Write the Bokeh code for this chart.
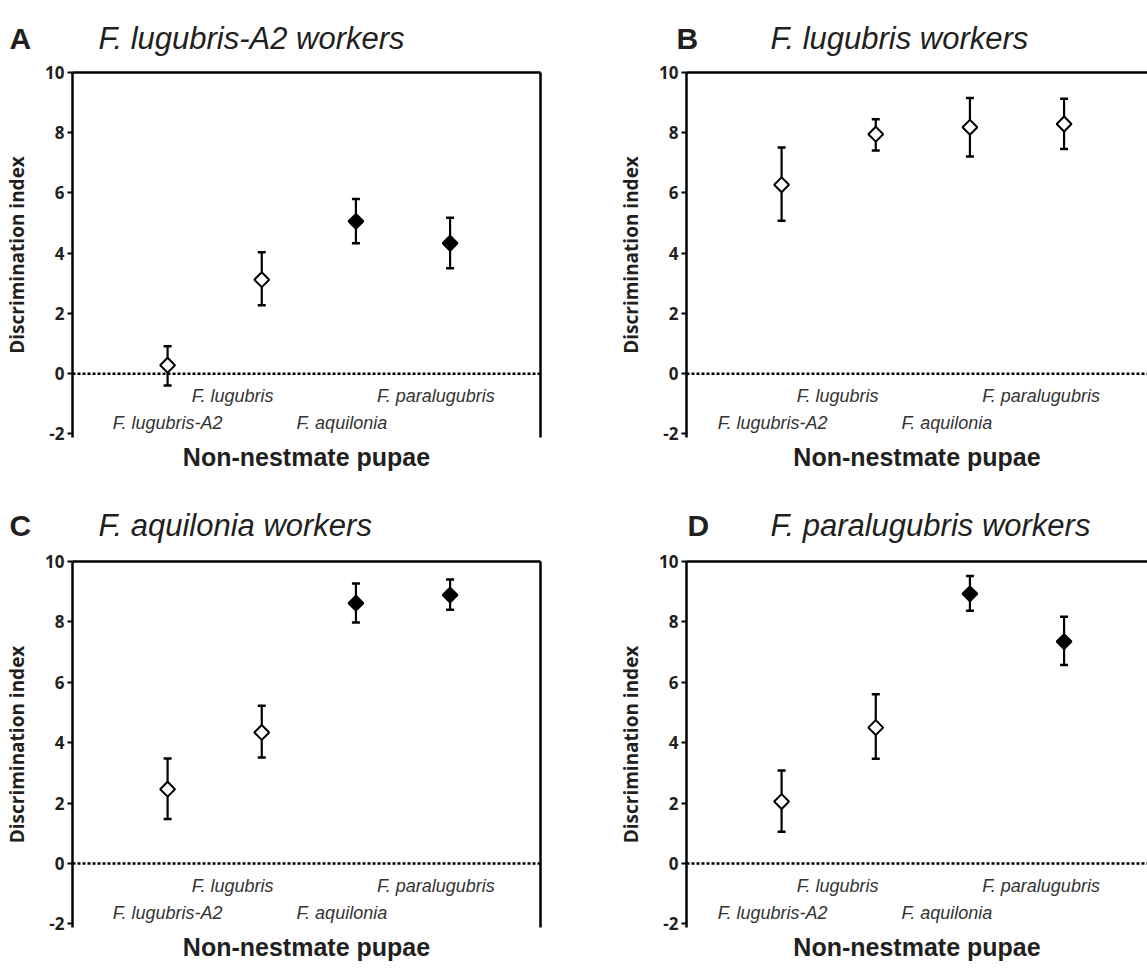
import math
from bokeh.plotting import figure
from bokeh.models import (Range1d, LinearAxis, FixedTicker, Span, Whisker, TeeHead,
                          ColumnDataSource)
from bokeh.layouts import column, row
from bokeh.core.properties import value
from bokeh.embed import file_html
from bokeh.resources import INLINE

# ---------------- data ----------------
categories = ["F. lugubris-A2", "F. lugubris", "F. aquilonia", "F. paralugubris"]
x_pos = [1, 2, 3, 4]
y_ticks = [-2, 0, 2, 4, 6, 8, 10]
y_tick_labels = ["-2", "0", "2", "4", "6", "8", "10"]

letters = ["A", "B", "C", "D"]
titles = ["F. lugubris-A2 workers", "F. lugubris workers",
          "F. aquilonia workers", "F. paralugubris workers"]

A_mean = [0.28, 3.12, 5.06, 4.33]
A_upper = [0.91, 4.03, 5.80, 5.18]
A_lower = [-0.39, 2.27, 4.33, 3.50]
A_filled = [False, False, True, True]

B_mean = [6.27, 7.95, 8.18, 8.29]
B_upper = [7.51, 8.45, 9.15, 9.13]
B_lower = [5.08, 7.41, 7.21, 7.46]
B_filled = [False, False, False, False]

C_mean = [2.46, 4.34, 8.62, 8.89]
C_upper = [3.48, 5.22, 9.27, 9.40]
C_lower = [1.47, 3.51, 7.98, 8.40]
C_filled = [False, False, True, True]

D_mean = [2.05, 4.50, 8.93, 7.35]
D_upper = [3.08, 5.60, 9.52, 8.17]
D_lower = [1.05, 3.47, 8.37, 6.57]
D_filled = [False, False, True, True]

x_title = "Non-nestmate pupae"
y_title = "Discrimination index"

# ---------------- style / layout ----------------
TXT = "#231f20"
SANS = "Liberation Sans"
TICKF = "Open Sans"
X_START = -0.01
PX_PER_UNIT = 94.16
label_shift = [0.0, -0.31, -0.15, -0.15]   # stagger alignment of category names
label_row_y = [-1.64, -0.75, -1.64, -0.75]

COL_W = [560, 587]
ROW_HEADER_H = [60, 52]
ROW_MAIN_H = [437, 423]


def blank_axis(**kw):
    ax = LinearAxis(ticker=FixedTicker(ticks=[]), **kw)
    ax.major_tick_out = 0
    ax.major_tick_in = 0
    ax.minor_tick_out = 0
    ax.minor_tick_in = 0
    ax.major_label_text_font_size = "0px"
    ax.major_label_standoff = 0
    return ax


def make_header(r):
    h = ROW_HEADER_H[r]
    total_w = sum(COL_W)
    p = figure(width=total_w, height=h, output_backend="svg", toolbar_location=None,
               x_range=Range1d(0, total_w), y_range=Range1d(h, 0),
               x_axis_location=None, y_axis_location=None,
               min_border=0, min_border_left=0, min_border_right=0,
               min_border_top=0, min_border_bottom=0)
    p.grid.visible = False
    p.outline_line_color = None
    base = 38 if r == 0 else 28
    i0, i1 = 2 * r, 2 * r + 1
    letter_x = [9, 676] if r == 0 else [9, 687]
    title_x = [98, 770]
    p.text(x=letter_x, y=[base, base], text=[letters[i0], letters[i1]],
           text_font=value(SANS), text_font_style="bold", text_font_size="30px",
           text_color=TXT, text_align="left", text_baseline="alphabetic")
    p.text(x=title_x, y=[base, base], text=[titles[i0], titles[i1]],
           text_font=value(SANS), text_font_style="italic", text_font_size="31px",
           text_color=TXT, text_align="left", text_baseline="alphabetic")
    return p


def make_panel(idx, mean, upper, lower, filled):
    c = idx % 2
    r = idx // 2
    width = COL_W[c]
    height = ROW_MAIN_H[r]
    mb_left = 72 if c == 0 else 126
    mb_right = 20 if c == 0 else 0
    mb_bottom = 60 if r == 0 else 45
    frame_w = width - mb_left - mb_right
    x_end = X_START + frame_w / PX_PER_UNIT

    p = figure(width=width, height=height, output_backend="svg", toolbar_location=None,
               x_range=Range1d(X_START, x_end), y_range=Range1d(-2.12, 10),
               x_axis_location=None, y_axis_location=None,
               min_border_left=mb_left, min_border_right=mb_right,
               min_border_top=12, min_border_bottom=mb_bottom)
    p.grid.visible = False
    p.outline_line_color = None

    # left axis with ticks and title
    ya = LinearAxis(ticker=FixedTicker(ticks=y_ticks), axis_label=y_title)
    ya.major_label_overrides = {t: s for t, s in zip(y_ticks, y_tick_labels)}
    ya.axis_line_width = 2.5
    ya.axis_line_color = "black"
    ya.major_tick_line_width = 2
    ya.major_tick_out = 5
    ya.major_tick_in = 0
    ya.minor_tick_out = 0
    ya.minor_tick_in = 0
    ya.major_label_standoff = 3
    ya.major_label_text_font = TICKF
    ya.major_label_text_font_style = "bold"
    ya.major_label_text_font_size = "17px"
    ya.major_label_text_color = TXT
    ya.axis_label_text_font = TICKF
    ya.axis_label_text_font_style = "bold"
    ya.axis_label_text_font_size = "19px"
    ya.axis_label_text_color = TXT
    ya.axis_label_standoff = 12
    p.add_layout(ya, "left")

    # top frame line
    ta = blank_axis()
    ta.axis_line_width = 2.5
    p.add_layout(ta, "above")

    if c == 0:
        ra = blank_axis()
        ra.axis_line_width = 2.5
        p.add_layout(ra, "right")

    # bottom: no line, only the title
    xa = blank_axis(axis_label=x_title)
    xa.axis_line_color = None
    xa.axis_label_text_font = SANS
    xa.axis_label_text_font_style = "bold"
    xa.axis_label_text_font_size = "25px"
    xa.axis_label_text_color = TXT
    xa.axis_label_standoff = 5
    p.add_layout(xa, "below")

    # dotted zero line
    p.add_layout(Span(location=0, dimension="width", line_color="black",
                      line_width=2.5, line_dash="3 2"))

    src = ColumnDataSource(dict(x=x_pos, y=mean, upper=upper, lower=lower,
                                fill=["black" if f else "white" for f in filled]))
    w = Whisker(source=src, base="x", upper="upper", lower="lower",
                line_color="black", line_width=2.2,
                upper_head=TeeHead(size=8, line_width=2.5, line_color="black"),
                lower_head=TeeHead(size=8, line_width=2.5, line_color="black"),
                level="underlay")
    p.add_layout(w)
    p.scatter("x", "y", source=src, marker="square", angle=math.pi / 4, size=10.5,
              fill_color="fill", line_color="black", line_width=2)

    # category names, staggered
    shift = 0.0 if c == 0 else -0.095
    lab_x = [xp + s + shift for xp, s in zip(x_pos, label_shift)]
    p.text(x=lab_x, y=label_row_y, text=categories, text_font=value(SANS),
           text_font_style="italic", text_font_size="18px", text_color="#333333",
           text_align="center", text_baseline="middle")
    return p


hdr1 = make_header(0)
hdr2 = make_header(1)
pA = make_panel(0, A_mean, A_upper, A_lower, A_filled)
pB = make_panel(1, B_mean, B_upper, B_lower, B_filled)
pC = make_panel(2, C_mean, C_upper, C_lower, C_filled)
pD = make_panel(3, D_mean, D_upper, D_lower, D_filled)

layout = column(hdr1, row(pA, pB, spacing=0), hdr2, row(pC, pD, spacing=0), spacing=0)
open("out.html", "w").write(file_html(layout, INLINE))
